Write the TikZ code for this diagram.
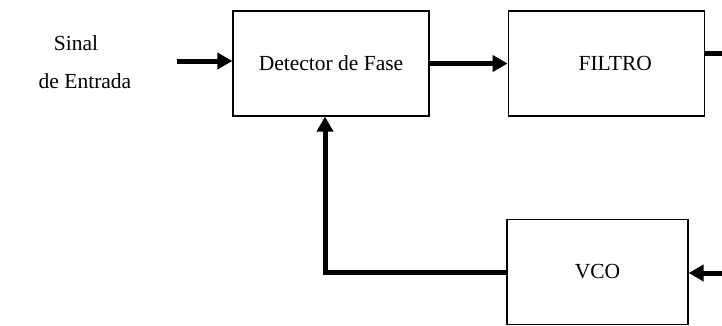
\documentclass[tikz,border=0pt]{standalone}
\usepackage{fontspec}
\setmainfont{Liberation Serif}
\usetikzlibrary{arrows.meta,positioning}
\begin{document}
\begin{tikzpicture}[x=1pt, y=-1pt, >={Triangle[length=15pt,width=16pt]}]
\tikzstyle{blk}=[draw=black,line width=1.2pt,minimum width=196pt,minimum height=105pt,inner sep=0pt,font=\fontsize{21.5}{25}\selectfont]
\tikzstyle{sig}=[line width=5pt]
\tikzstyle{lbl}=[inner sep=0pt,font=\fontsize{21.5}{25}\selectfont]
\useasboundingbox (0,0) rectangle (722,325);
\node[blk] (det) at (331,63.5) {Detector de Fase};
\node[blk] (fil) [right=78pt of det] {\hspace*{18pt}FILTRO};
\node[blk, minimum width=181pt] (vco) at (597.5,272) {VCO};
\node[lbl] (sinal)   at (76,43) {Sinal};
\node[lbl] (entrada) at (85,81) {de Entrada};
\coordinate (in)  at (177,61);
\coordinate (out) at (722,53);
\coordinate (vin) at (722,273);
\draw[sig,->] (in) -- (in -| det.west);
\draw[sig,->] (det.east) -- (fil.west);
\draw[sig] (fil.east |- out) -- (out);
\draw[sig,->] (vin) -- (vin -| vco.east);
\draw[sig,->] (vco.west) -| ([xshift=-6pt]det.south);
\end{tikzpicture}
\end{document}
